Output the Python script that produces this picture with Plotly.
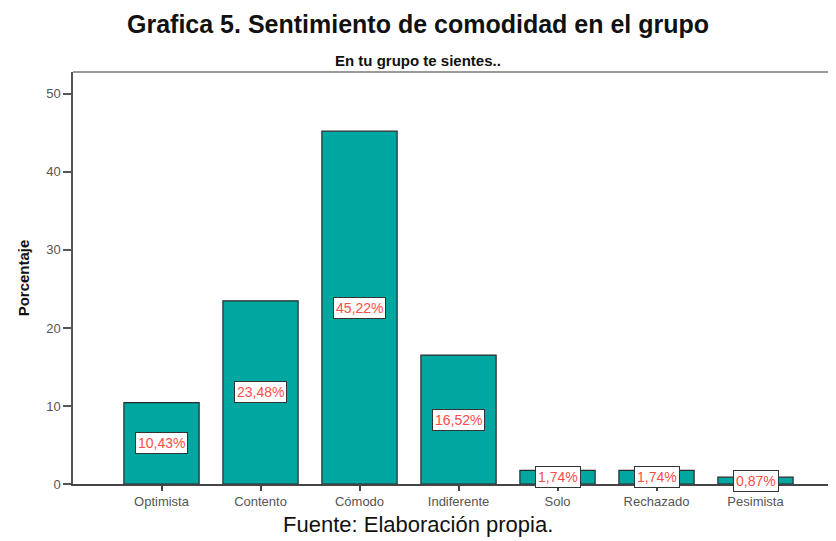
import plotly.graph_objects as go

categories = ["Optimista", "Contento", "Cómodo", "Indiferente", "Solo", "Rechazado", "Pesimista"]
porcentajes = [10.43, 23.48, 45.22, 16.52, 1.74, 1.74, 0.87]
y_ticks = [0, 10, 20, 30, 40, 50]

title_text = "Grafica 5. Sentimiento de comodidad en el grupo"
subtitle_text = "En tu grupo te sientes.."
footer_text = "Fuente: Elaboración propia."
y_title = "Porcentaje"

labels = [f"{v:.2f}".replace(".", ",") + "%" for v in porcentajes]

FONT = "Liberation Sans, Arial, sans-serif"

fig = go.Figure()
fig.add_trace(go.Bar(
    x=categories, y=porcentajes, width=0.76,
    marker=dict(color="#00A6A0", line=dict(color="#2b2b2b", width=1.2)),
    hoverinfo="skip",
))

# page body has an 8px margin: figure is sized so it fits the 836x541 window
OFF = 8
W, H = 836 - OFF, 541 - OFF
ml, mr, mt, mb = 73 - OFF, 0, 72 - OFF, H - (484 - OFF)
ph = H - mt - mb

def py(ywin):
    return (H - mb - (ywin - OFF)) / ph

def px(xwin):
    return ((xwin - OFF) - ml) / (W - ml - mr)

annotations = []
for c, v, t in zip(categories, porcentajes, labels):
    annotations.append(dict(
        x=c, y=v / 2, xref="x", yref="y", text=t, showarrow=False,
        font=dict(family=FONT, size=14, color="#FF4B4B"),
        bgcolor="white", bordercolor="#333333", borderwidth=1, borderpad=2,
    ))

cx = px(418)
annotations += [
    dict(x=cx, y=py(24), xref="paper", yref="paper", text="<b>" + title_text + "</b>",
         showarrow=False, xanchor="center", yanchor="middle",
         font=dict(family=FONT, size=25, color="#111111")),
    dict(x=cx, y=py(61), xref="paper", yref="paper", text="<b>" + subtitle_text + "</b>",
         showarrow=False, xanchor="center", yanchor="middle",
         font=dict(family=FONT, size=15, color="#111111")),
    dict(x=cx, y=py(524), xref="paper", yref="paper", text=footer_text,
         showarrow=False, xanchor="center", yanchor="middle",
         font=dict(family=FONT, size=22, color="#111111")),
]

fig.update_layout(
    width=W, height=H,
    margin=dict(l=ml, r=mr, t=mt, b=mb, pad=0),
    paper_bgcolor="white", plot_bgcolor="white",
    showlegend=False,
    annotations=annotations,
    shapes=[dict(type="line", xref="paper", yref="paper", x0=0, x1=1, y0=1, y1=1,
                 line=dict(color="#9a9a9a", width=2))],
    xaxis=dict(
        range=[-0.894, 6.813], showgrid=False, zeroline=False,
        showline=True, linecolor="#444444", linewidth=1.5,
        ticks="outside", ticklen=5, tickcolor="#444444", tickwidth=1.5,
        tickfont=dict(family=FONT, size=13, color="#555555"),
    ),
    yaxis=dict(
        range=[0, 52.8], showgrid=False, zeroline=False,
        tickvals=y_ticks,
        showline=True, linecolor="#555555", linewidth=1.5,
        ticks="outside", ticklen=8, tickcolor="#555555", tickwidth=1.5,
        tickfont=dict(family=FONT, size=13, color="#555555"),
        title=dict(text="<b>" + y_title + "</b>", standoff=13,
                   font=dict(family=FONT, size=15, color="#111111")),
    ),
)

fig.write_html("out.html")
